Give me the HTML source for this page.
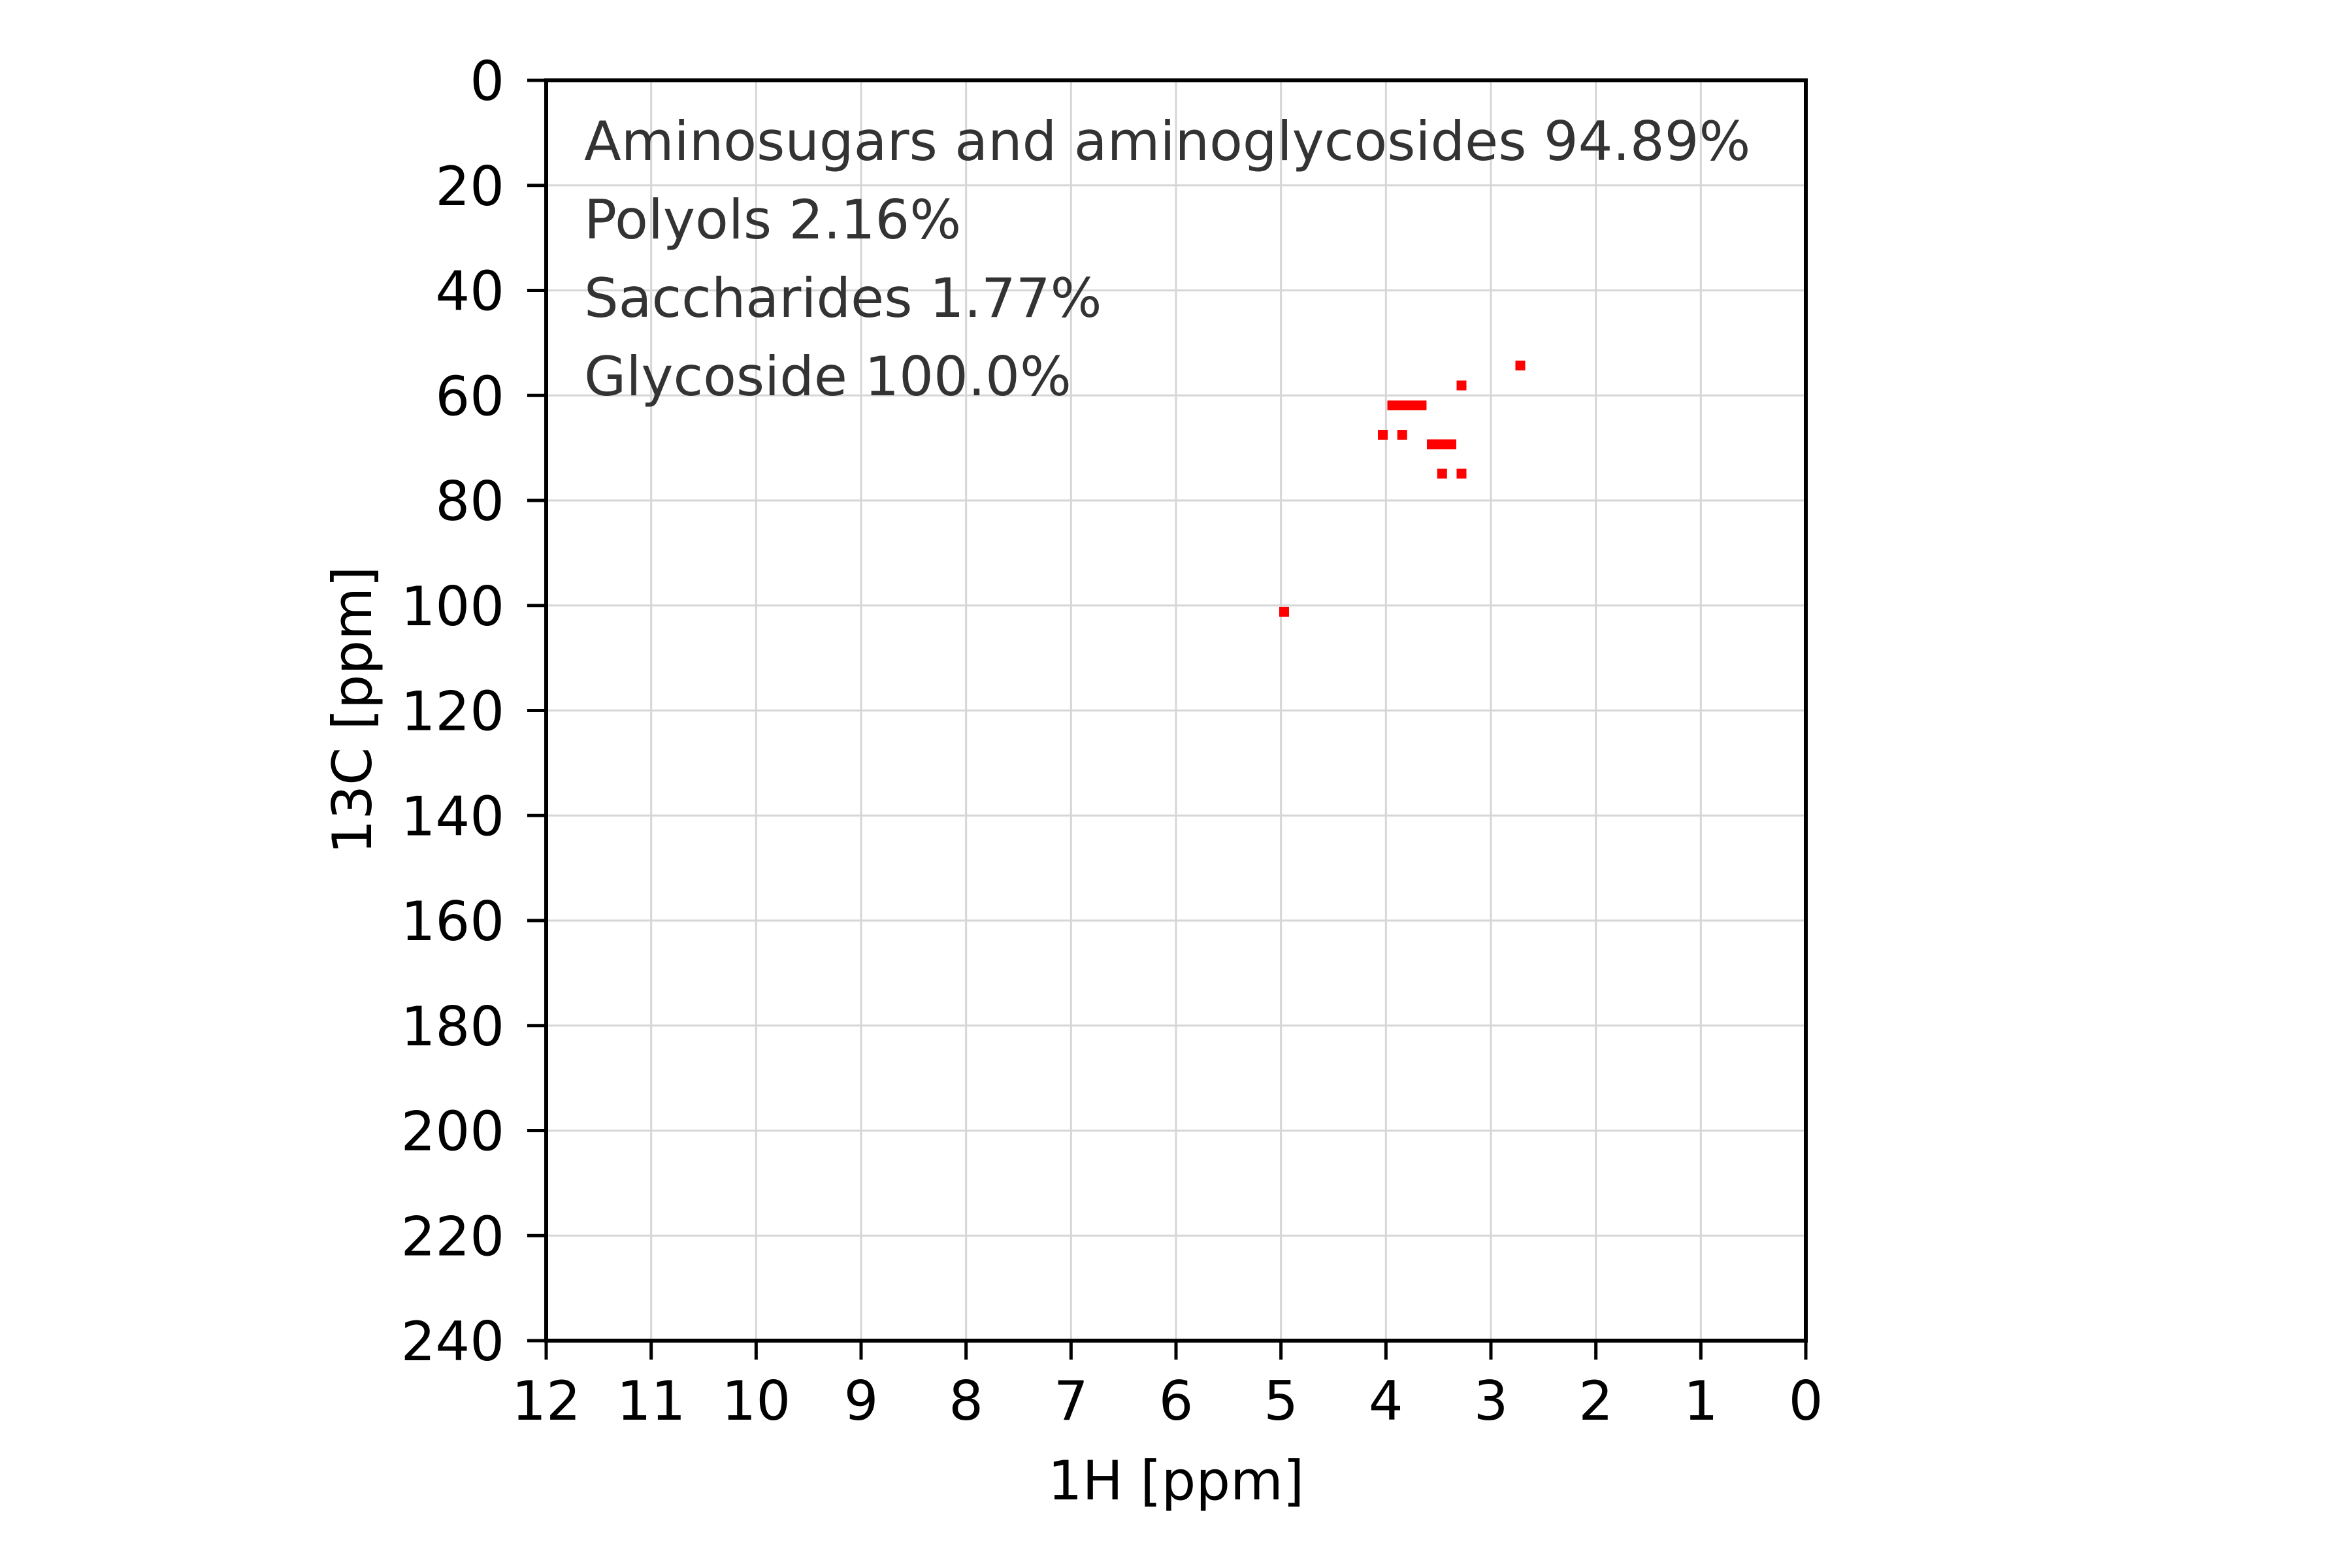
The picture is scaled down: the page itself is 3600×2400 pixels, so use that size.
<!DOCTYPE html>
<html><head><meta charset="utf-8"><style>
html,body{margin:0;padding:0;background:#fff;}
svg{display:block;font-family:"DejaVu Sans","Liberation Sans",sans-serif;}
</style></head><body>
<svg id="chart" width="3600" height="2400" viewBox="0 0 3600 2400">
<rect width="3600" height="2400" fill="#fff"/>
<g id="grid"></g>
<g id="marks"></g>
<g id="axes"></g>
<g font-size="83" fill="#333">
<text x="894" y="245">Aminosugars and aminoglycosides 94.89%</text>
<text x="894" y="365">Polyols 2.16%</text>
<text x="894" y="485">Saccharides 1.77%</text>
<text x="894" y="605">Glycoside 100.0%</text>
</g>
<text x="1800" y="2295" font-size="83" text-anchor="middle">1H [ppm]</text>
<text x="0" y="0" font-size="83" text-anchor="middle" transform="translate(568,1087) rotate(-90)">13C [ppm]</text>
</svg>
<script>
const xTicks = [12,11,10,9,8,7,6,5,4,3,2,1,0];
const yTicks = [0,20,40,60,80,100,120,140,160,180,200,220,240];
const peakH = [2.72, 3.28, 3.80, 4.03, 3.845, 3.47, 3.465, 3.28, 4.97];
const peakC = [54.3, 58.1, 61.9, 67.5, 67.5, 69.3, 74.9, 74.9, 101.2];
const peakCells = [1, 1, 4, 1, 1, 3, 1, 1, 1];

const L=836,R=2764,T=123,B=2052;
const X = v => L + (12 - v) * (R - L) / 12;
const Y = v => T + v * (B - T) / 240;
const dx = 0.0933, dy = 1.87;
const NS='http://www.w3.org/2000/svg';
function mk(tag, attrs, parent){const e=document.createElementNS(NS,tag);for(const k in attrs)e.setAttribute(k,attrs[k]);parent.appendChild(e);return e;}
const grid=document.getElementById('grid'), marks=document.getElementById('marks'), axes=document.getElementById('axes');
xTicks.forEach(t=>{
  const l=mk('line',{x1:X(t),x2:X(t),y1:T,y2:B,stroke:'#d6d6d6','stroke-width':3},grid);
  
  
  const k=mk('line',{x1:X(t),x2:X(t),y1:B,y2:B+29,stroke:'#000','stroke-width':5},axes);
  
  
  const tx=mk('text',{x:X(t),y:2173,'font-size':83,'text-anchor':'middle'},axes);
  tx.textContent=t;
  
  
});
yTicks.forEach(t=>{
  const l=mk('line',{x1:L,x2:R,y1:Y(t),y2:Y(t),stroke:'#d6d6d6','stroke-width':3},grid);
  
  
  const k=mk('line',{x1:L-29,x2:L,y1:Y(t),y2:Y(t),stroke:'#000','stroke-width':5},axes);
  
  
  const tx=mk('text',{x:772,y:Y(t)+30,'font-size':83,'text-anchor':'end'},axes);
  tx.textContent=t;
  
  
});
peakH.forEach((h,i)=>{
  const n=peakCells[i];
  const x1=X(h + n*dx/2), x2=X(h - n*dx/2);
  const r=mk('rect',{x:x1,y:Y(peakC[i]-dy/2),width:x2-x1,height:Y(dy)-Y(0),fill:'#ff0000'},marks);
  
  
});
const sp=mk('rect',{x:L,y:T,width:R-L,height:B-T,fill:'none',stroke:'#000','stroke-width':6},axes);


</script>
</body></html>
